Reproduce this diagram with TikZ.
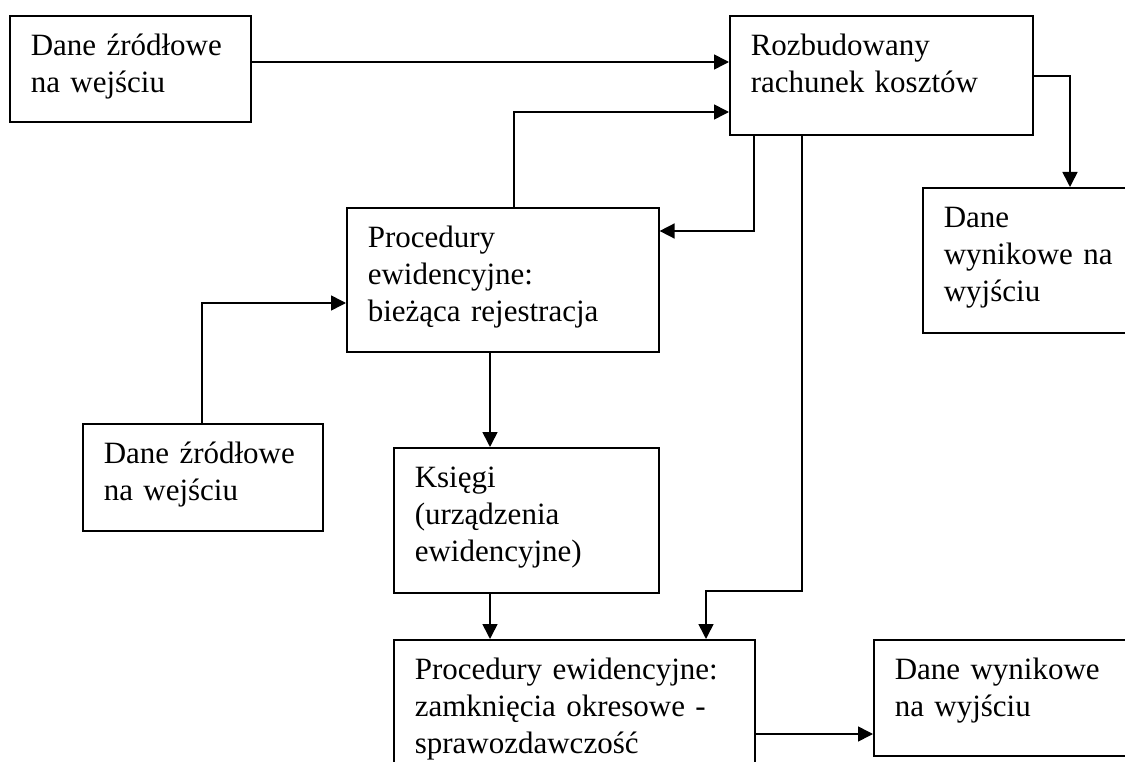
\documentclass[tikz,border=0pt]{standalone}
\usepackage{fontspec}
\setmainfont{Liberation Serif}
\usetikzlibrary{arrows.meta}

\begin{document}
\begin{tikzpicture}[x=1pt,y=-1pt]
\tikzset{blok/.style={draw, line width=1.6pt, rectangle, anchor=north west, align=left, inner xsep=21pt, inner ysep=0pt, text height=40pt, font=\fontsize{31}{37}\selectfont}}
\tikzset{strzalka/.style={line width=1.6pt, -{Triangle[length=15pt,width=15pt]}}}
				\useasboundingbox (0,0) rectangle (1125,762);
				\clip (0,0) rectangle (1125,762);
				\node[blok, text width=199pt, text depth=66pt] (zrodlo1) at (9,15) {Dane źródłowe\\na wejściu};
				\node[blok, text width=261pt, text depth=79pt] (rachunek) at (729,15) {Rozbudowany\\rachunek kosztów};
				\node[blok, text width=188pt, text depth=105pt] (wynik1) at (922,187) {Dane\\wynikowe na\\wyjściu};
				\node[blok, text width=270pt, text depth=104pt] (proc1) at (346,207) {Procedury\\ewidencyjne:\\bieżąca rejestracja};
				\node[blok, text width=198pt, text depth=67pt] (zrodlo2) at (82,423) {Dane źródłowe\\na wejściu};
				\node[blok, text width=223pt, text depth=105pt] (ksiegi) at (393,447) {Księgi\\(urządzenia\\ewidencyjne)};
				\node[blok, text width=319pt, text depth=105pt] (proc2) at (393,639) {Procedury ewidencyjne:\\zamknięcia okresowe -\\sprawozdawczość};
				\node[blok, text width=238pt, text depth=76pt] (wynik2) at (873,639) {Dane wynikowe\\na wyjściu};
				\coordinate (zalom) at (706,591);

				\draw[strzalka] ([yshift=-47pt]zrodlo1.north east) -- ([yshift=-47pt]rachunek.north west);
				\draw[strzalka] ([xshift=168pt]proc1.north west) |- ([yshift=-97pt]rachunek.north west);
				\draw[strzalka] ([xshift=25pt]rachunek.south west) |- ([yshift=-24pt]proc1.north east);
				\draw[strzalka] ([yshift=-61pt]rachunek.north east) -| ([xshift=148pt]wynik1.north west);
				\draw[strzalka] ([xshift=73pt]rachunek.south west) |- (zalom) -- (zalom |- proc2.north);
				\draw[strzalka] ([xshift=120pt]zrodlo2.north west) |- ([yshift=-96pt]proc1.north west);
				\draw[strzalka] ([xshift=144pt]proc1.south west) -- ([xshift=97pt]ksiegi.north west);
				\draw[strzalka] ([xshift=97pt]ksiegi.south west) -- ([xshift=97pt]proc2.north west);
				\draw[strzalka] ([yshift=-95pt]proc2.north east) -- ([yshift=-95pt]wynik2.north west);
\end{tikzpicture}
\end{document}
